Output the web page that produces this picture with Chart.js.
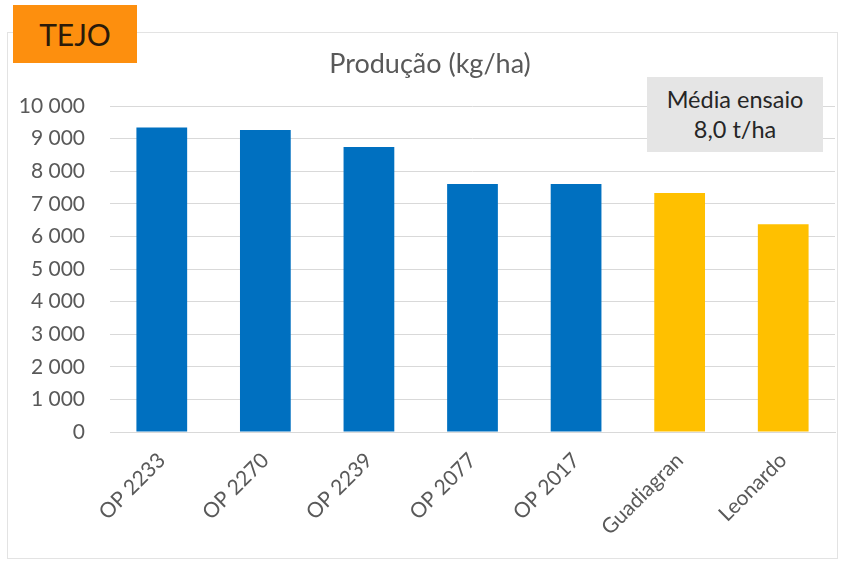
<!DOCTYPE html>
<html>
<head>
<meta charset="utf-8">
<script src="https://cdn.jsdelivr.net/npm/chart.js@4.4.1/dist/chart.umd.min.js"></script>
<style>
  html, body { margin: 0; padding: 0; background: #fff; }
  #wrap { position: relative; width: 843px; height: 562px; overflow: hidden; font-family: Lato, "Open Sans", sans-serif; }
  #frame { position: absolute; left: 7px; top: 32px; width: 831px; height: 527px; border: 1px solid #e3e3e3; box-sizing: border-box; }
  #chart { position: absolute; left: 0; top: 0; }
  #title { position: absolute; left: 230px; top: 47px; width: 400px; text-align: center; font-size: 27px; line-height: 32px; color: #595959; }
  #tejo { position: absolute; left: 13px; top: 5px; width: 124px; height: 58px; background: #fd8f0e; color: #2a1a0a; font-size: 30px; line-height: 58px; text-align: center; }
  #media { position: absolute; left: 647px; top: 77px; width: 176px; height: 75px; background: #e5e5e5; color: #262626; font-size: 23.5px; line-height: 30px; text-align: center; padding-top: 7px; box-sizing: border-box; }
</style>
</head>
<body>
<div id="wrap">
  <div id="frame"></div>
  <canvas id="chart" width="843" height="562"></canvas>
  <div id="title">Produção (kg/ha)</div>
  <div id="tejo">TEJO</div>
  <div id="media">Média ensaio<br>8,0 t/ha</div>
</div>
<script>
const varieties = ["OP 2233", "OP 2270", "OP 2239", "OP 2077", "OP 2017", "Guadiagran", "Leonardo"];
const production = [9340, 9260, 8740, 7610, 7610, 7330, 6370];
const barColors = ["#0070c0", "#0070c0", "#0070c0", "#0070c0", "#0070c0", "#ffc000", "#ffc000"];
const yTicks = [0, 1000, 2000, 3000, 4000, 5000, 6000, 7000, 8000, 9000, 10000];

// Excel style thousands with a space: 10 000
const fmt = (v) => String(v).replace(/\B(?=(\d{3})+(?!\d))/g, " ");

const chart = new Chart(document.getElementById("chart").getContext("2d"), {
  type: "bar",
  data: {
    labels: varieties,
    datasets: [
      {
        data: production,
        backgroundColor: barColors,
        borderWidth: 0,
        barPercentage: 0.49,
        categoryPercentage: 1,
      },
    ],
  },
  options: {
    responsive: false,
    animation: false,
    // title sits in the html above, so the plot just starts at y=106
    layout: { padding: { left: 0, right: 8, top: 106, bottom: 0 } },
    plugins: {
      legend: { display: false },
      tooltip: { enabled: false },
    },
    scales: {
      x: {
        grid: { display: false, drawTicks: false },
        border: { display: true, color: "#d9d9d9" },
        ticks: {
          color: "#595959",
          font: { family: "Lato", size: 21 },
          minRotation: 45,
          maxRotation: 45,
          padding: 16,
        },
        afterFit: (scale) => { scale.height = 130; },
      },
      y: {
        min: 0,
        max: 10000,
        afterBuildTicks: (scale) => { scale.ticks = yTicks.map((v) => ({ value: v })); },
        grid: { color: "#d9d9d9", drawTicks: false },
        border: { display: false },
        ticks: {
          color: "#595959",
          font: { family: "Lato", size: 21 },
          padding: 25,
          callback: (v) => fmt(v),
        },
        afterFit: (scale) => { scale.width = 110; },
      },
    },
  },
});
</script>
</body>
</html>
